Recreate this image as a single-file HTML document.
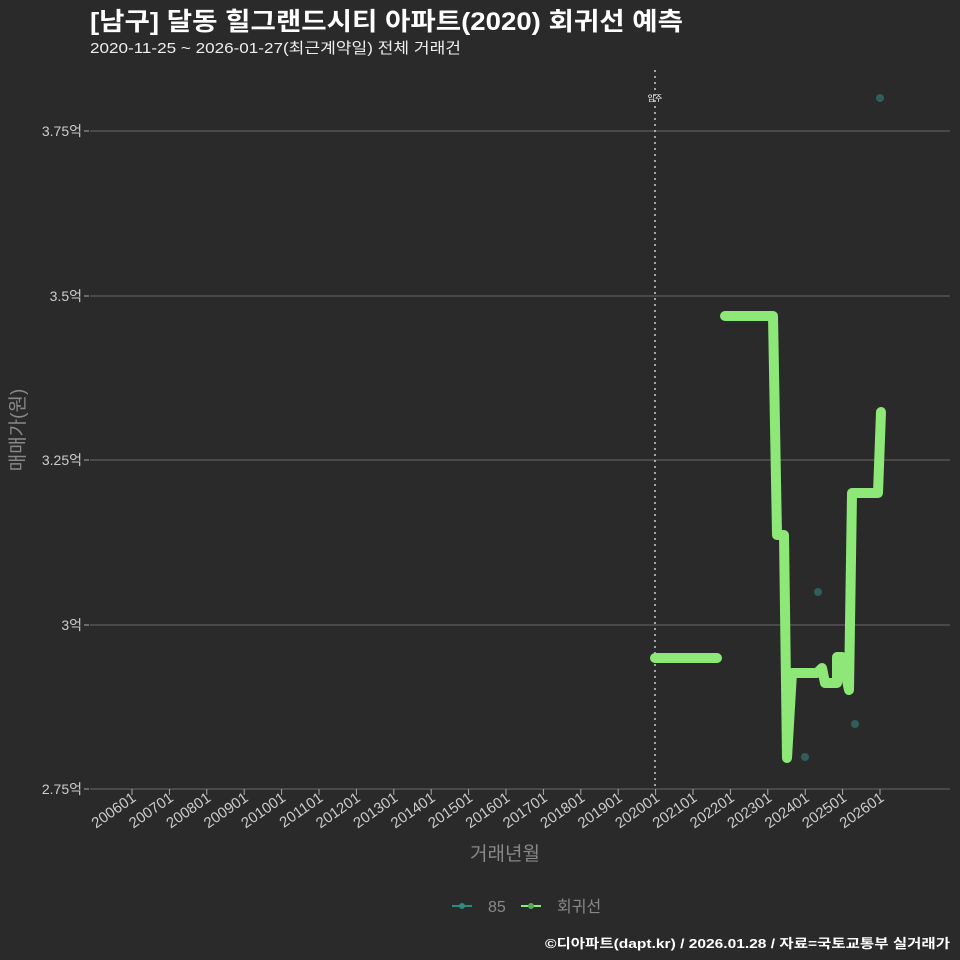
<!DOCTYPE html>
<html><head><meta charset="utf-8"><style>
body{margin:0;background:#2b2a2b;}
svg{display:block;font-family:"Liberation Sans","Noto Sans CJK KR",sans-serif;}
</style></head><body>
<svg width="960" height="960" xmlns="http://www.w3.org/2000/svg">
<rect width="960" height="960" fill="#2b2a2b"/>
<text x="90" y="30" fill="#fff" font-size="25" font-weight="bold" textLength="593" lengthAdjust="spacingAndGlyphs">[남구] 달동 힐그랜드시티 아파트(2020) 회귀선 예측</text>
<text x="90" y="53" fill="#eee" font-size="15" textLength="371" lengthAdjust="spacingAndGlyphs">2020-11-25 ~ 2026-01-27(최근계약일) 전체 거래건</text>
<g stroke="#5c5b5c" stroke-width="1.2">
<line x1="90" y1="131" x2="950" y2="131"/><line x1="90" y1="296" x2="950" y2="296"/>
<line x1="90" y1="460" x2="950" y2="460"/><line x1="90" y1="625" x2="950" y2="625"/>
<line x1="90" y1="789" x2="950" y2="789"/>
</g>
<g fill="#ccc" font-size="14" text-anchor="end">
<text x="82" y="136">3.75억</text><text x="82" y="301">3.5억</text>
<text x="82" y="465">3.25억</text><text x="82" y="630">3억</text><text x="82" y="794">2.75억</text>
</g>
<g stroke="#aaa"><line x1="84" y1="131" x2="89" y2="131"/><line x1="84" y1="296" x2="89" y2="296"/><line x1="84" y1="460" x2="89" y2="460"/><line x1="84" y1="625" x2="89" y2="625"/><line x1="84" y1="789" x2="89" y2="789"/></g>
<text transform="translate(24,430) rotate(-90)" fill="#888" font-size="19" text-anchor="middle">매매가(원)</text>
<line x1="655" y1="70" x2="655" y2="789" stroke="#ccc" stroke-width="1.5" stroke-dasharray="2,4"/>
<text x="655" y="101" fill="#fff" font-size="8" text-anchor="middle">입주</text>
<g stroke="#aaa">
<line x1="132" y1="789" x2="132" y2="795"/><line x1="169.4" y1="789" x2="169.4" y2="795"/><line x1="206.8" y1="789" x2="206.8" y2="795"/><line x1="244.2" y1="789" x2="244.2" y2="795"/><line x1="281.6" y1="789" x2="281.6" y2="795"/><line x1="319" y1="789" x2="319" y2="795"/><line x1="356.4" y1="789" x2="356.4" y2="795"/><line x1="393.8" y1="789" x2="393.8" y2="795"/><line x1="431.2" y1="789" x2="431.2" y2="795"/><line x1="468.6" y1="789" x2="468.6" y2="795"/><line x1="506" y1="789" x2="506" y2="795"/><line x1="543.4" y1="789" x2="543.4" y2="795"/><line x1="580.8" y1="789" x2="580.8" y2="795"/><line x1="618.2" y1="789" x2="618.2" y2="795"/><line x1="655.6" y1="789" x2="655.6" y2="795"/><line x1="693" y1="789" x2="693" y2="795"/><line x1="730.4" y1="789" x2="730.4" y2="795"/><line x1="767.8" y1="789" x2="767.8" y2="795"/><line x1="805.2" y1="789" x2="805.2" y2="795"/><line x1="842.6" y1="789" x2="842.6" y2="795"/><line x1="880" y1="789" x2="880" y2="795"/>
</g>
<g fill="#ccc" font-size="15" text-anchor="end">
<text transform="translate(137,800) rotate(-35)">200601</text>
<text transform="translate(174.4,800) rotate(-35)">200701</text>
<text transform="translate(211.8,800) rotate(-35)">200801</text>
<text transform="translate(249.2,800) rotate(-35)">200901</text>
<text transform="translate(286.6,800) rotate(-35)">201001</text>
<text transform="translate(324,800) rotate(-35)">201101</text>
<text transform="translate(361.4,800) rotate(-35)">201201</text>
<text transform="translate(398.8,800) rotate(-35)">201301</text>
<text transform="translate(436.2,800) rotate(-35)">201401</text>
<text transform="translate(473.6,800) rotate(-35)">201501</text>
<text transform="translate(511,800) rotate(-35)">201601</text>
<text transform="translate(548.4,800) rotate(-35)">201701</text>
<text transform="translate(585.8,800) rotate(-35)">201801</text>
<text transform="translate(623.2,800) rotate(-35)">201901</text>
<text transform="translate(660.6,800) rotate(-35)">202001</text>
<text transform="translate(698,800) rotate(-35)">202101</text>
<text transform="translate(735.4,800) rotate(-35)">202201</text>
<text transform="translate(772.8,800) rotate(-35)">202301</text>
<text transform="translate(810.2,800) rotate(-35)">202401</text>
<text transform="translate(847.6,800) rotate(-35)">202501</text>
<text transform="translate(885,800) rotate(-35)">202601</text>
</g>
<g fill="#2f5f5a"><circle cx="818" cy="592" r="4"/><circle cx="805" cy="757" r="4"/><circle cx="855" cy="724" r="4"/><circle cx="880" cy="98" r="4"/></g>
<g fill="none" stroke="#8ee878" stroke-width="10" stroke-linecap="round" stroke-linejoin="round">
<polyline points="655,658 717,658"/>
<polyline points="725,316 773,316 777,535 784,535 787,758 792,673 817,673 822,668 825,683 837,683 837,657 842,657 849,690 852,493 878,493 881,412"/>
</g>
<text x="505" y="860" fill="#888" font-size="19" text-anchor="middle">거래년월</text>
<line x1="452" y1="906" x2="472" y2="906" stroke="#2f8a80" stroke-width="2"/><circle cx="462" cy="906" r="3" fill="#2f8a80"/>
<text x="488" y="912" fill="#888" font-size="16">85</text>
<line x1="521" y1="906" x2="541" y2="906" stroke="#8ee878" stroke-width="2"/><circle cx="531" cy="906" r="3" fill="#5ca858"/>
<text x="557" y="912" fill="#888" font-size="16">회귀선</text>
<text x="950" y="948" fill="#fff" font-size="13" font-weight="bold" text-anchor="end" textLength="405" lengthAdjust="spacingAndGlyphs">©디아파트(dapt.kr) / 2026.01.28 / 자료=국토교통부 실거래가</text>
</svg>
</body></html>
